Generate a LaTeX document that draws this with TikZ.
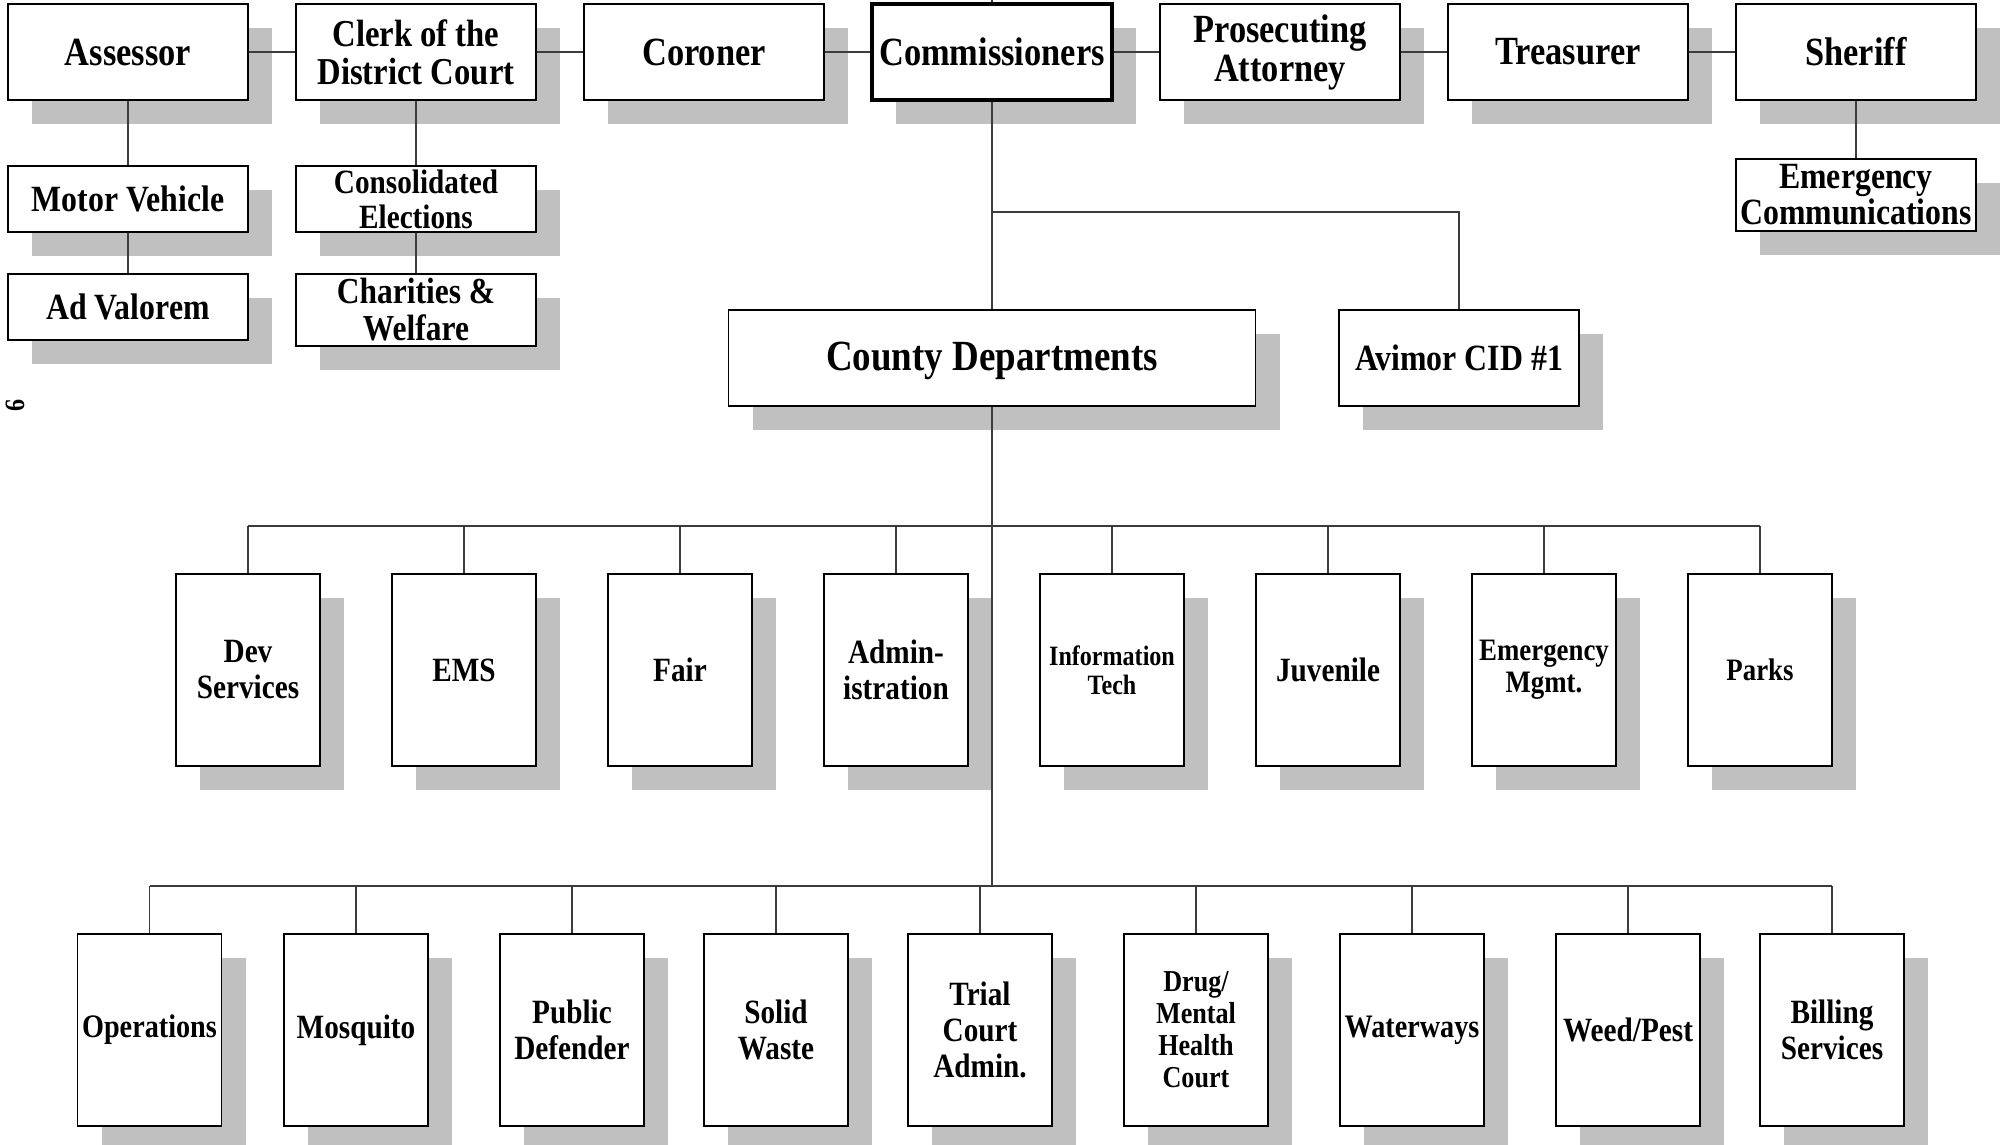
\documentclass[tikz,border=0pt]{standalone}
\usepackage{fontspec}
\setmainfont{Liberation Serif}[FakeStretch=0.86]
\usetikzlibrary{shadows}
\definecolor{shgray}{RGB}{192,192,192}
\definecolor{lngray}{RGB}{60,60,60}
\tikzset{
  ob/.style={draw=black, line width=0.75pt, fill=white, align=center, inner sep=0pt,
    drop shadow={shadow xshift=12pt, shadow yshift=-12pt, fill=shgray, opacity=1}},
  topbox/.style={ob, minimum width=120pt, minimum height=48pt, font=\fontsize{20pt}{19pt}\selectfont\bfseries},
  subbox/.style={ob, minimum width=120pt, minimum height=33pt, font=\fontsize{18.5pt}{18pt}\selectfont\bfseries},
  bigbox/.style={ob, minimum width=263.5pt, minimum height=48pt, font=\fontsize{21.5pt}{22pt}\selectfont\bfseries},
  deptbox/.style={ob, minimum width=72pt, minimum height=96pt, font=\fontsize{17pt}{18pt}\selectfont\bfseries},
  conn/.style={draw=lngray, line width=0.55pt},
}
\begin{document}
\begin{tikzpicture}[x=0.5pt,y=-0.5pt]
\useasboundingbox (0,0) rectangle (2002,1145);

% top row
\node[topbox] (a1) at (128,52) {Assessor};
\node[topbox, font=\fontsize{19pt}{19pt}\selectfont\bfseries] (a2) at (416,52) {Clerk of the\\District Court};
\node[topbox] (a3) at (704,52) {Coroner};
\node[topbox, line width=2.2pt] (a4) at (992,52) {Commissioners};
\node[topbox, font=\fontsize{20pt}{19.5pt}\selectfont\bfseries] (a5) at (1280,52) {\rule{0pt}{3pt}Prosecuting\\Attorney};
\node[topbox] (a6) at (1568,52) {Treasurer};
\node[topbox] (a7) at (1856,52) {Sheriff};

% second level
\node[subbox] (mv) at (128,199) {Motor Vehicle};
\node[subbox] (adv) at (128,307) {Ad Valorem};
\node[subbox, font=\fontsize{17pt}{17.5pt}\selectfont\bfseries] (ce) at (416,199) {Consolidated\\Elections};
\node[subbox, minimum height=36pt, font=\fontsize{18.3pt}{18.5pt}\selectfont\bfseries] (cw) at (416,310) {Charities \&\\Welfare};
\node[subbox, minimum height=36pt] (ec) at (1856,195) {Emergency\\Communications};

% county departments
\node[bigbox, text height=15pt, text depth=3pt] (cd) at (992,358) {County Departments};
\node[topbox, font=\fontsize{18.5pt}{19pt}\selectfont\bfseries] (cid) at (1459,358) {Avimor CID \#1};

% third row
\node[deptbox] (d1) at (248,670) {Dev\\Services};
\node[deptbox] (d2) at (464,670) {EMS};
\node[deptbox] (d3) at (680,670) {Fair};
\node[deptbox] (d4) at (896,670) {Admin-\\istration};
\node[deptbox, font=\fontsize{14pt}{14.5pt}\selectfont\bfseries] (d5) at (1112,670) {Information\\Tech};
\node[deptbox] (d6) at (1328,670) {Juvenile};
\node[deptbox, font=\fontsize{15.6pt}{16pt}\selectfont\bfseries] (d7) at (1544,670) {Emergency\\Mgmt.};
\node[deptbox, font=\fontsize{15.6pt}{16pt}\selectfont\bfseries] (d8) at (1760,670) {Parks};

% bottom row
\node[deptbox, font=\fontsize{16.4pt}{17pt}\selectfont\bfseries] (e1) at (149.5,1030) {Operations};
\node[deptbox] (e2) at (356,1030) {Mosquito};
\node[deptbox] (e3) at (572,1030) {Public\\Defender};
\node[deptbox] (e4) at (776,1030) {Solid\\Waste};
\node[deptbox] (e5) at (980,1030) {Trial\\Court\\Admin.};
\node[deptbox, font=\fontsize{15.2pt}{16pt}\selectfont\bfseries] (e6) at (1196,1030) {Drug/\\Mental\\Health\\Court};
\node[deptbox, font=\fontsize{16.4pt}{17pt}\selectfont\bfseries] (e7) at (1412,1030) {Waterways};
\node[deptbox] (e8) at (1628,1030) {Weed/Pest};
\node[deptbox] (e9) at (1832,1030) {Billing\\Services};

% page number
\node[rotate=-90, inner sep=0pt, font=\fontsize{14pt}{14pt}\selectfont\bfseries] (pg) at (15,406) {9};

% connectors
\coordinate (topend) at (992,0);
\coordinate (j1) at (992,212);
\coordinate (b3) at (992,526);
\coordinate (b4) at (992,886);

\draw[conn] (a1.east) -- (a2.west);
\draw[conn] (a2.east) -- (a3.west);
\draw[conn] (a3.east) -- (a4.west);
\draw[conn] (a4.east) -- (a5.west);
\draw[conn] (a5.east) -- (a6.west);
\draw[conn] (a6.east) -- (a7.west);
\draw[conn] (a4.north) -- (topend);

\draw[conn] (a1.south) -- (mv.north);
\draw[conn] (mv.south) -- (adv.north);
\draw[conn] (a2.south) -- (ce.north);
\draw[conn] (ce.south) -- (cw.north);
\draw[conn] (a7.south) -- (ec.north);

\draw[conn] (a4.south) -- (cd.north);
\draw[conn] (j1) -| (cid.north);

\draw[conn] (cd.south) -- (b4);
\draw[conn] (d1.north |- b3) -- (d8.north |- b3);
\foreach \n in {d1,d2,d3,d4,d5,d6,d7,d8} {\draw[conn] (\n.north |- b3) -- (\n.north);}
\draw[conn] (e1.north |- b4) -- (e9.north |- b4);
\foreach \n in {e1,e2,e3,e4,e5,e6,e7,e8,e9} {\draw[conn] (\n.north |- b4) -- (\n.north);}
\end{tikzpicture}
\end{document}
